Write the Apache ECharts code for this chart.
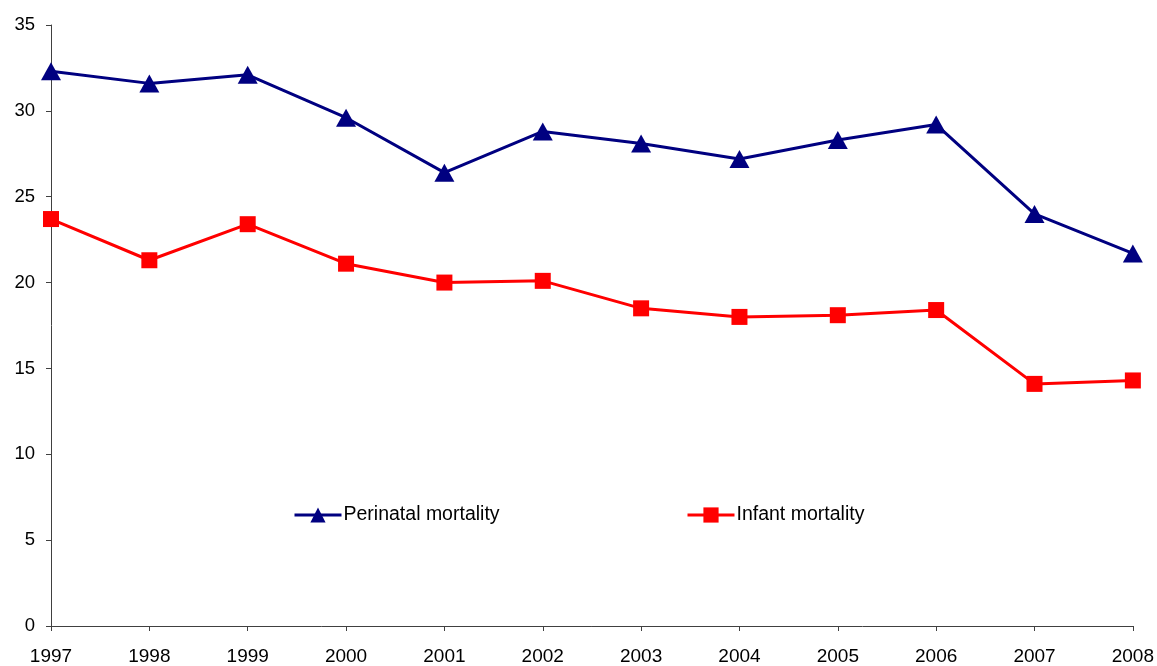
<!DOCTYPE html>
<html><head><meta charset="utf-8">
<script src="https://cdn.jsdelivr.net/npm/echarts@6/dist/echarts.min.js"></script>
<style>html,body{margin:0;padding:0;background:#fff}#c{width:1157px;height:666px}</style>
</head><body><div id="c"></div>
<script>
const years = ['1997','1998','1999','2000','2001','2002','2003','2004','2005','2006','2007','2008'];
const perinatal = [32.3,31.6,32.1,29.6,26.4,28.8,28.1,27.2,28.3,29.2,24.0,21.7];
const infant = [23.7,21.3,23.4,21.1,20.0,20.1,18.5,18.0,18.1,18.4,14.1,14.3];
const yTicks = {min:0, max:35, interval:5};
const font = 'Liberation Sans, Arial, sans-serif';
const chart = echarts.init(document.getElementById('c'));
const legendText = {fontFamily:font,fontSize:19.5,color:'#000',padding:[5,0,0,-3]};
chart.setOption({
  animation:false,
  textStyle:{fontFamily:font},
  grid:{left:51,right:24,top:25,bottom:40,containLabel:false},
  legend:[
    {data:['Perinatal mortality'],left:293,top:505,padding:0,itemWidth:47,itemHeight:19,itemGap:4,
     lineStyle:{width:3},textStyle:legendText},
    {data:['Infant mortality'],left:686,top:505,padding:0,itemWidth:47,itemHeight:19,itemGap:4,
     lineStyle:{width:3},textStyle:legendText}
  ],
  xAxis:{type:'category',data:years,boundaryGap:false,
    axisLine:{lineStyle:{color:'#404040',width:1}},
    axisTick:{show:true,alignWithLabel:true,length:5,lineStyle:{color:'#404040'}},
    axisLabel:{color:'#000',fontSize:19,fontFamily:font,margin:21,interval:0}},
  yAxis:{type:'value',min:yTicks.min,max:yTicks.max,interval:yTicks.interval,
    axisLine:{show:true,lineStyle:{color:'#404040',width:1}},
    axisTick:{show:true,length:5,lineStyle:{color:'#404040'}},
    splitLine:{show:false},
    axisLabel:{color:'#000',fontSize:18.5,fontFamily:font,margin:16}},
  series:[
    {name:'Perinatal mortality',type:'line',data:perinatal,symbol:'triangle',symbolSize:[20,18],
     lineStyle:{color:'#000080',width:3},itemStyle:{color:'#000080'}},
    {name:'Infant mortality',type:'line',data:infant,symbol:'rect',symbolSize:16,
     lineStyle:{color:'#FF0000',width:3},itemStyle:{color:'#FF0000'}}
  ]
});
</script></body></html>
